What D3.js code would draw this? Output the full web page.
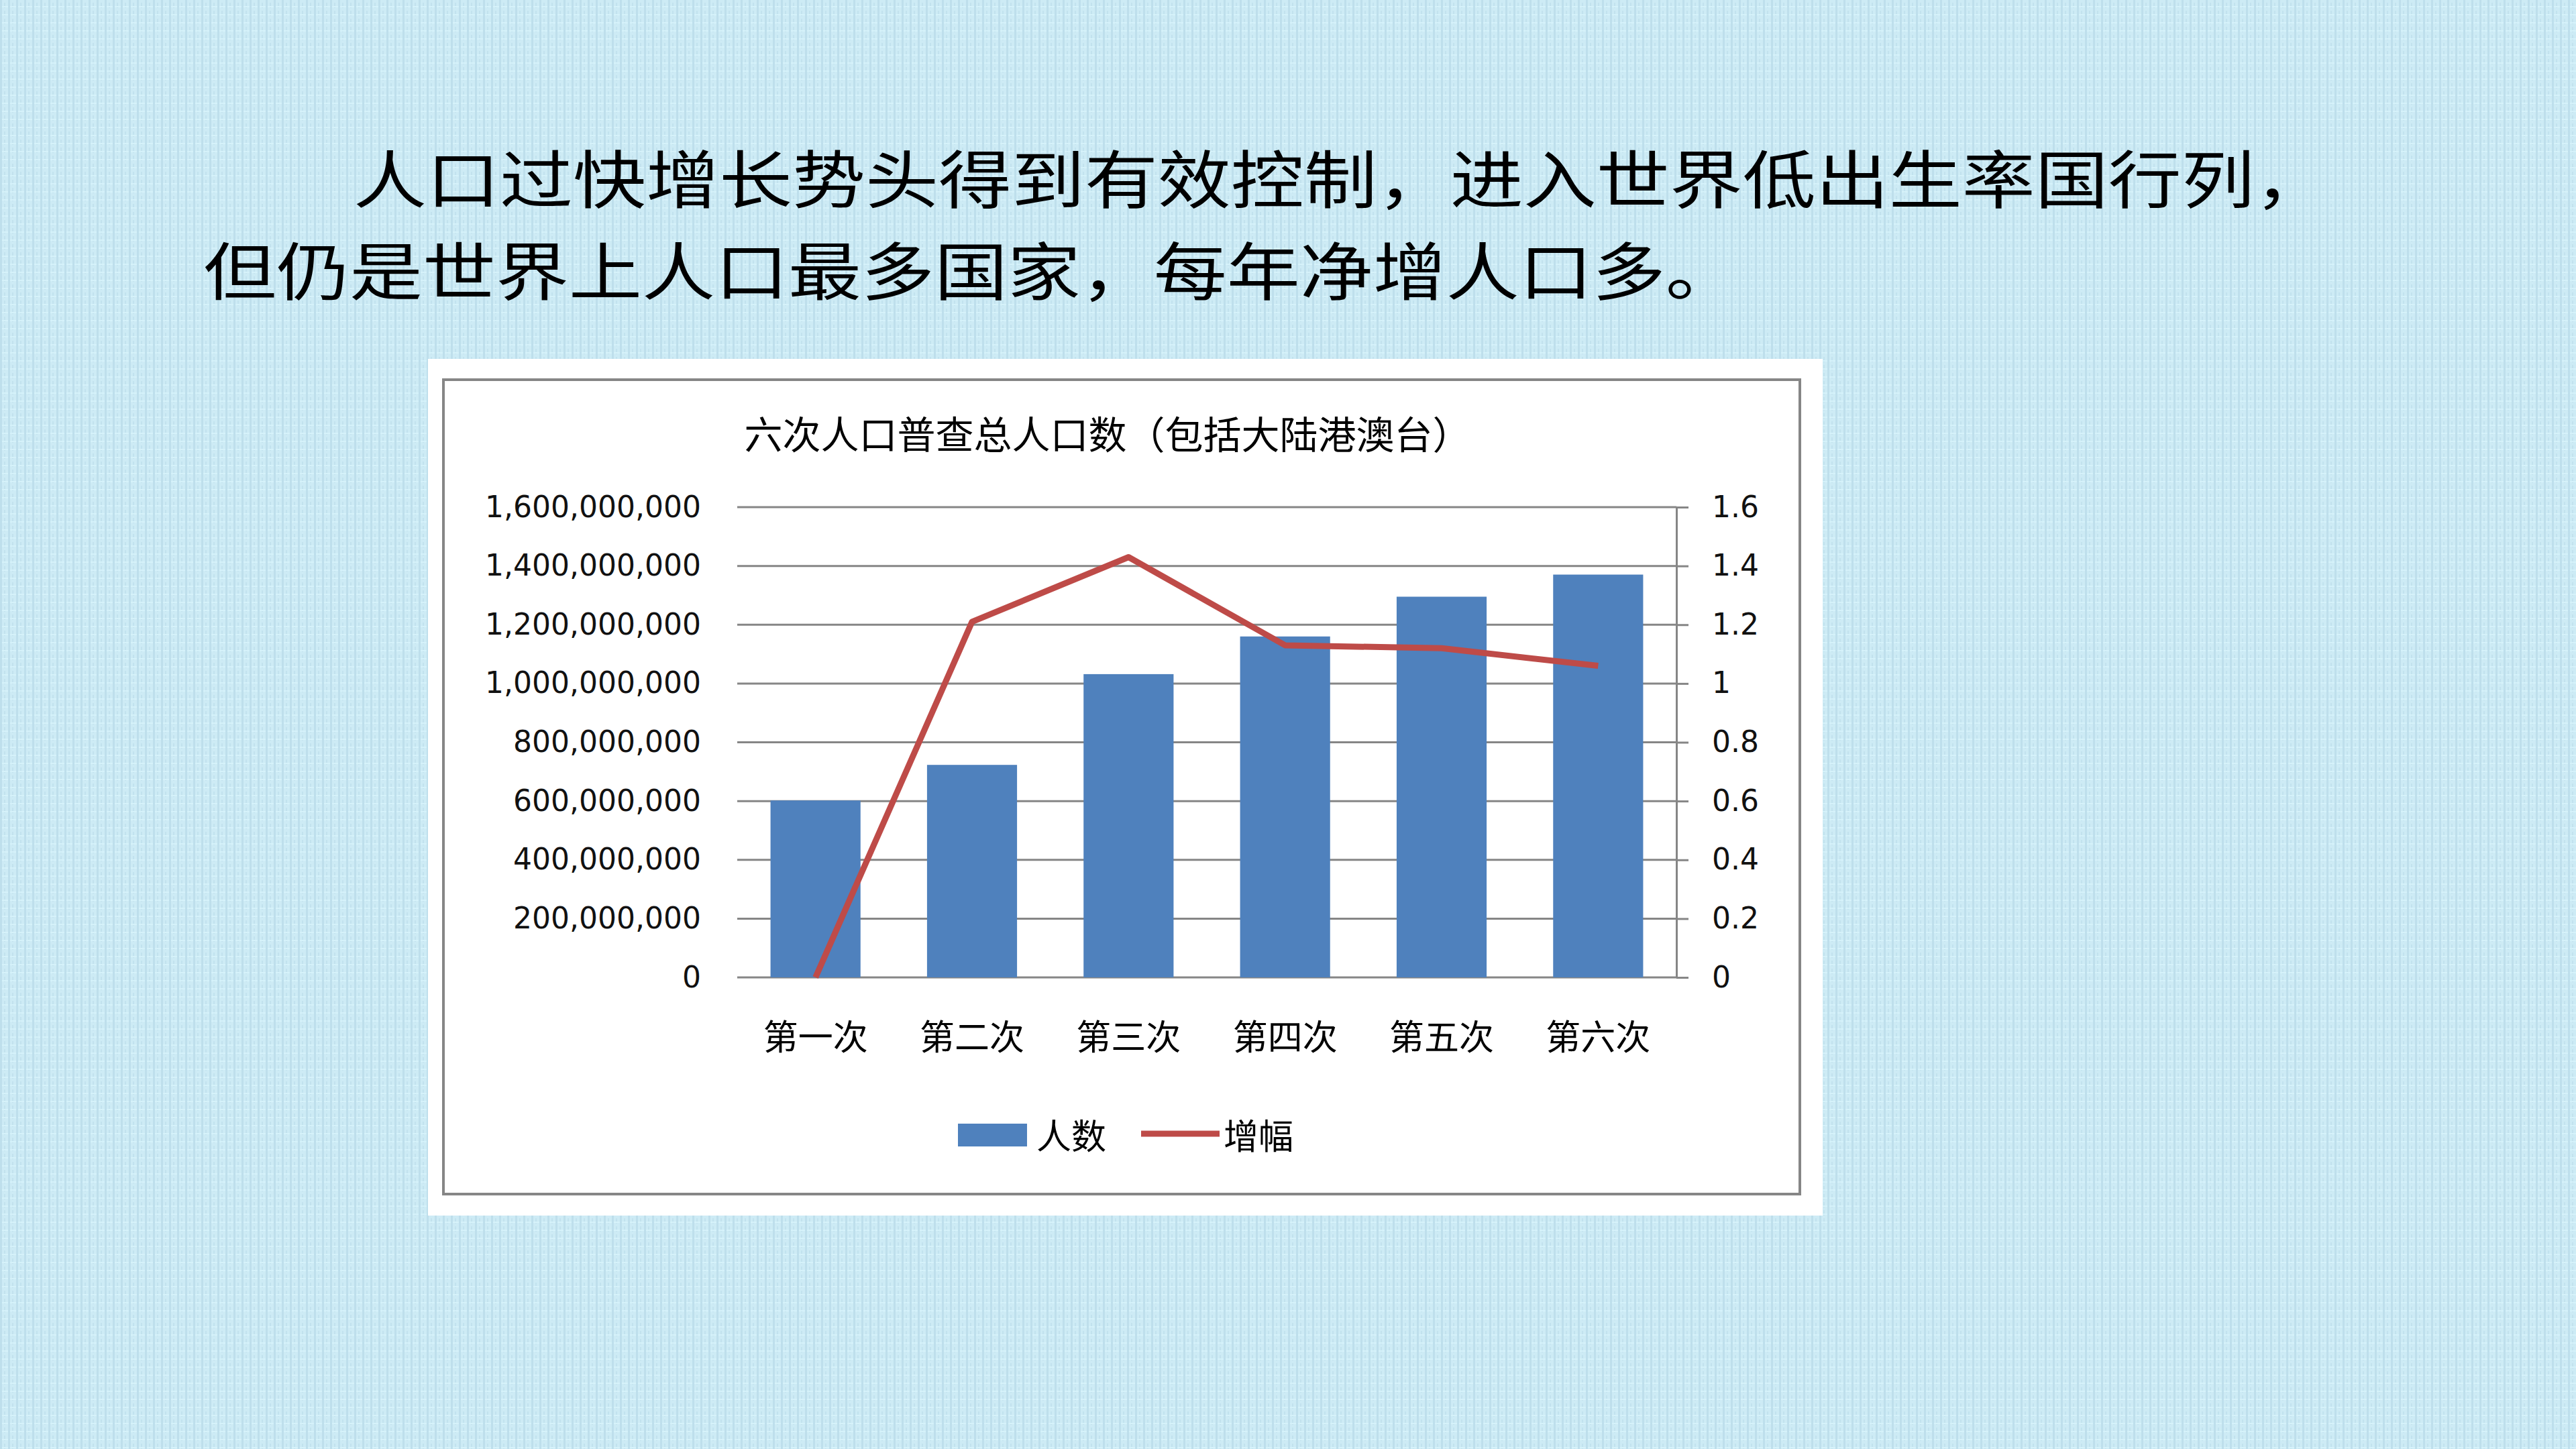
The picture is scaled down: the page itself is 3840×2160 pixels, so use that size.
<!DOCTYPE html>
<html>
<head>
<meta charset="utf-8">
<script src="https://cdn.jsdelivr.net/npm/d3@7"></script>
<style>
  html, body { margin: 0; padding: 0; background: #c8e8f3; }
  svg { display: block; }
</style>
</head>
<body>
<svg id="chart" width="3840" height="2160"></svg>
<script>
// ---- data ----
const headingLines = [
  "人口过快增长势头得到有效控制，进入世界低出生率国行列，",
  "但仍是世界上人口最多国家，每年净增人口多。"
];
const chartTitle = "六次人口普查总人口数（包括大陆港澳台）";
const categories = ["第一次", "第二次", "第三次", "第四次", "第五次", "第六次"];
const population = [601938035, 723070269, 1031882511, 1160017381, 1295330000, 1370536875];
const growth = [0, 1.21, 1.43, 1.13, 1.12, 1.06];
const leftTicks = [0, 200000000, 400000000, 600000000, 800000000, 1000000000, 1200000000, 1400000000, 1600000000];
const rightTicks = [0, 0.2, 0.4, 0.6, 0.8, 1, 1.2, 1.4, 1.6];
const rightTickLabels = ["0", "0.2", "0.4", "0.6", "0.8", "1", "1.2", "1.4", "1.6"];
const seriesNames = ["人数", "增幅"];

// ---- styles ----
const BLUE = "#4f81bd";
const RED = "#be4b48";
const GRID = "#868686";
const CJK = "'Noto Sans CJK SC', 'Noto Sans', sans-serif";
const NUM = "'DejaVu Sans', sans-serif";

const svg = d3.select("#chart");

// background
const defs = svg.append("defs");
const pat = defs.append("pattern").attr("id", "tex").attr("width", 12).attr("height", 12)
  .attr("patternUnits", "userSpaceOnUse");
pat.append("rect").attr("width", 12).attr("height", 12).attr("fill", "#cdebf5");
pat.append("rect").attr("x", 0).attr("y", 0).attr("width", 3).attr("height", 12).attr("fill", "#bedfec");
pat.append("rect").attr("x", 6).attr("y", 4).attr("width", 2).attr("height", 8).attr("fill", "#c2e2ee");
pat.append("rect").attr("x", 3).attr("y", 9).attr("width", 9).attr("height", 2).attr("fill", "#d6f2fa");
svg.append("rect").attr("width", 3840).attr("height", 2160).attr("fill", "url(#tex)");

// heading text (slightly condensed vertically so the two lines do not collide)
const HFS = 94, HSX = 109 / 94;
const heading = svg.append("g").attr("font-family", CJK).attr("font-size", HFS).attr("fill", "#000");
heading.append("text").attr("transform", `translate(527,262) scale(${HSX},1)`)
  .attr("dominant-baseline", "central").text(headingLines[0]);
heading.append("text").attr("transform", `translate(303,399) scale(${HSX},1)`)
  .attr("dominant-baseline", "central").text(headingLines[1]);

// chart panel
svg.append("rect").attr("x", 638).attr("y", 535).attr("width", 2079).attr("height", 1277).attr("fill", "#ffffff");
svg.append("rect").attr("x", 661).attr("y", 566).attr("width", 2022).attr("height", 1214)
  .attr("fill", "none").attr("stroke", GRID).attr("stroke-width", 4);

// title
svg.append("text").attr("x", 1651).attr("y", 644).attr("text-anchor", "middle")
  .attr("dominant-baseline", "central").attr("font-family", CJK).attr("font-size", 57)
  .attr("fill", "#000").text(chartTitle);

// scales
const plot = { left: 1099, right: 2499, top: 756, bottom: 1457 };
const x = d3.scaleBand().domain(categories).range([plot.left, plot.right]).paddingInner(0.425).paddingOuter(0.2125);
const y = d3.scaleLinear().domain([0, 1600000000]).range([plot.bottom, plot.top]);
const y2 = d3.scaleLinear().domain([0, 1.6]).range([plot.bottom, plot.top]);

// gridlines
svg.append("g").selectAll("line").data(leftTicks).join("line")
  .attr("x1", plot.left).attr("x2", plot.right)
  .attr("y1", d => y(d)).attr("y2", d => y(d))
  .attr("stroke", GRID).attr("stroke-width", 3);

// left axis
const leftAxis = svg.append("g").attr("transform", `translate(${plot.left},0)`)
  .call(d3.axisLeft(y).tickValues(leftTicks).tickFormat(d3.format(",")).tickSize(0).tickPadding(54));
leftAxis.select(".domain").remove();
leftAxis.selectAll("text").attr("font-family", NUM).attr("font-size", 44).attr("fill", "#111");

// bars
svg.append("g").selectAll("rect").data(population).join("rect")
  .attr("x", (d, i) => x(categories[i]))
  .attr("y", d => y(d))
  .attr("width", x.bandwidth())
  .attr("height", d => y(0) - y(d))
  .attr("fill", BLUE);

// right axis
const rightAxis = svg.append("g").attr("transform", `translate(${plot.right},0)`)
  .call(d3.axisRight(y2).tickValues(rightTicks).tickFormat((d, i) => rightTickLabels[i]).tickSize(18).tickSizeOuter(0).tickPadding(35));
rightAxis.select(".domain").attr("stroke", GRID).attr("stroke-width", 3);
rightAxis.selectAll(".tick line").attr("stroke", GRID).attr("stroke-width", 3);
rightAxis.selectAll("text").attr("font-family", NUM).attr("font-size", 44).attr("fill", "#111");

// category axis labels
const bottomAxis = svg.append("g").attr("transform", `translate(0,${plot.bottom})`)
  .call(d3.axisBottom(x).tickSize(0).tickPadding(0));
bottomAxis.select(".domain").remove();
bottomAxis.selectAll("text").attr("font-family", CJK).attr("font-size", 52).attr("fill", "#000")
  .attr("dy", null).attr("y", 85).attr("dominant-baseline", "central");

// growth line
const line = d3.line()
  .x((d, i) => x(categories[i]) + x.bandwidth() / 2)
  .y(d => y2(d));
svg.append("path").datum(growth).attr("d", line)
  .attr("fill", "none").attr("stroke", RED).attr("stroke-width", 9)
  .attr("stroke-linejoin", "round").attr("stroke-linecap", "butt");

// legend
const legend = svg.append("g").attr("font-family", CJK).attr("font-size", 52).attr("fill", "#000");
legend.append("rect").attr("x", 1428).attr("y", 1675).attr("width", 103).attr("height", 34).attr("fill", BLUE);
legend.append("text").attr("x", 1545).attr("y", 1690).attr("dominant-baseline", "central").text(seriesNames[0]);
legend.append("line").attr("x1", 1701).attr("x2", 1818).attr("y1", 1690).attr("y2", 1690)
  .attr("stroke", RED).attr("stroke-width", 9);
legend.append("text").attr("x", 1824).attr("y", 1690).attr("dominant-baseline", "central").text(seriesNames[1]);
</script>
</body>
</html>
